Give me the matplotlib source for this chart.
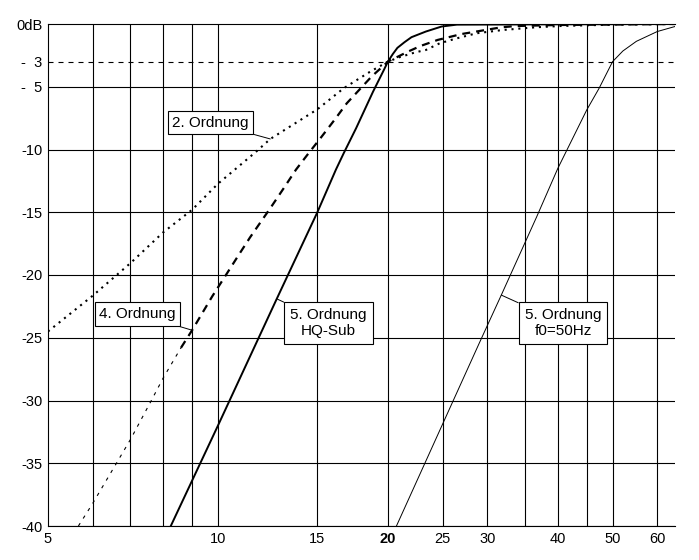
import matplotlib
matplotlib.use('Agg')
import matplotlib.pyplot as plt
from matplotlib.ticker import NullLocator

plt.rcParams['font.family'] = ['Liberation Sans', 'DejaVu Sans']

# values (frequency in Hz, level in dB)
freq_2nd = [5, 6, 7, 8, 9, 10, 11.68, 12.38, 13.46, 15, 16.7, 18.6, 20,
            20.95, 22.4, 23.35, 24.7, 26.5, 28.7, 31.9, 36.6, 40.4, 50, 64.5]
db_2nd = [-24.5, -21.65, -19.05, -16.6, -14.8, -12.73, -10.18, -9.16, -8.13,
          -6.8, -5.12, -3.8, -3.0, -2.65, -2.25, -2.07, -1.54, -1.14, -0.74,
          -0.48, -0.26, -0.16, -0.05, 0]

freq_4th_low = [5.66, 6, 7, 7.6, 8, 8.6]
db_4th_low = [-40, -38.2, -33.1, -30.1, -28.2, -25.8]
freq_4th = [8.6, 9, 9.77, 10.23, 10.92, 11.4, 11.98, 12.43, 13.07, 13.75,
            14.47, 15.19, 16.08, 16.91, 18.7, 20, 21.71, 22.85, 24.5, 27.0,
            29.04, 31.78, 33.8, 40, 64.5]
db_4th = [-25.8, -24.4, -21.7, -20.3, -18.3, -17.0, -15.6, -14.56, -13.1,
          -11.6, -10.3, -9.1, -7.65, -6.32, -4.2, -3.0, -2.2, -1.75, -1.27,
          -0.8, -0.56, -0.26, -0.16, -0.08, 0]

freq_hq = [8.25, 10, 12.71, 15, 16.18, 16.7, 17.57, 18.82, 19.67, 20,
           20.4, 20.79, 21.4, 22.02, 23.35, 24.9, 26.5, 64.5]
db_hq = [-40, -32.0, -21.9, -15.0, -11.6, -10.3, -8.3, -5.4, -3.67, -3.0,
         -2.4, -1.9, -1.45, -1.05, -0.6, -0.2, -0.05, 0]

freq_50 = [20.71, 29.05, 31.76, 36.66, 40, 45, 47.33, 50, 52.15, 55.1, 60, 64.5]
db_50 = [-40, -25.4, -21.6, -15.4, -11.5, -6.85, -5.12, -3.0, -2.15,
         -1.38, -0.6, -0.2]

grid_freqs = [6, 7, 8, 9, 10, 15, 20, 25, 30, 35, 40, 45, 50, 60]
grid_dbs = [-5, -10, -15, -20, -25, -30, -35, -40]
x_ticks = [5, 10, 15, 20, 25, 30, 40, 50, 60]
x_labels = ['5', '10', '15', '20', '25', '30', '40', '50', '60']
y_ticks = [0, -3, -5, -10, -15, -20, -25, -30, -35, -40]
y_labels = ['0dB', '-  3', '-  5', '-10', '-15', '-20', '-25', '-30', '-35', '-40']

fig = plt.figure(figsize=(6.99, 5.6), dpi=100)
ax = fig.add_axes([48 / 699, 34 / 560, 627 / 699, 502 / 560])
ax.set_xscale('log')
ax.set_xlim(5, 64.5)
ax.set_ylim(-40, 0)

for f in grid_freqs:
    ax.axvline(f, color='black', lw=0.8, zorder=1)
for d in grid_dbs:
    ax.axhline(d, color='black', lw=0.8, zorder=1)
ax.axhline(-3, color='black', lw=0.8, dashes=(4.5, 4.5), zorder=1)

ax.plot(freq_2nd, db_2nd, color='black', lw=1.5, linestyle=(0, (1, 2.3)),
        dash_capstyle='butt', zorder=3)
ax.plot(freq_4th_low, db_4th_low, color='black', lw=0.8,
        linestyle=(0, (3, 5)), zorder=3)
ax.plot(freq_4th, db_4th, color='black', lw=1.6, linestyle=(0, (3.6, 2.7)),
        zorder=3)
ax.plot(freq_hq, db_hq, color='black', lw=1.4, zorder=3)
ax.plot(freq_50, db_50, color='black', lw=0.7, zorder=3)

box = dict(boxstyle='square,pad=0.3', fc='white', ec='black', lw=0.8)
box2 = dict(boxstyle='square,pad=0.4', fc='white', ec='black', lw=0.8)
leader = dict(arrowstyle='-', lw=0.7, color='black', shrinkA=0, shrinkB=0)
ax.annotate('2. Ordnung', xy=(12.38, -9.16), xytext=(210.5, 437.5),
            textcoords='figure pixels', ha='center', va='center', fontsize=11,
            bbox=box, arrowprops=leader, zorder=5)
ax.annotate('4. Ordnung', xy=(9, -24.4), xytext=(137.5, 246),
            textcoords='figure pixels', ha='center', va='center', fontsize=11,
            bbox=box, arrowprops=leader, zorder=5)
ax.annotate('5. Ordnung\nHQ-Sub', xy=(12.71, -21.9), xytext=(328.5, 237),
            textcoords='figure pixels', ha='center', va='center', fontsize=11,
            multialignment='center', bbox=box2, arrowprops=leader, zorder=5)
ax.annotate('5. Ordnung\nf0=50Hz', xy=(31.76, -21.6), xytext=(563, 237),
            textcoords='figure pixels', ha='center', va='center', fontsize=11,
            multialignment='center', bbox=box2, arrowprops=leader, zorder=5)

ax.set_xticks(x_ticks)
ax.set_xticklabels(x_labels)
ax.xaxis.set_minor_locator(NullLocator())
ax.get_xticklabels()[3].set_fontweight('bold')
ax.set_yticks(y_ticks)
ax.set_yticklabels(y_labels)
ax.tick_params(length=0, labelsize=10.5, pad=4)

ax.spines['right'].set_visible(False)
for s in ['left', 'bottom', 'top']:
    ax.spines[s].set_linewidth(0.8)

fig.savefig('out.png', dpi=100)
